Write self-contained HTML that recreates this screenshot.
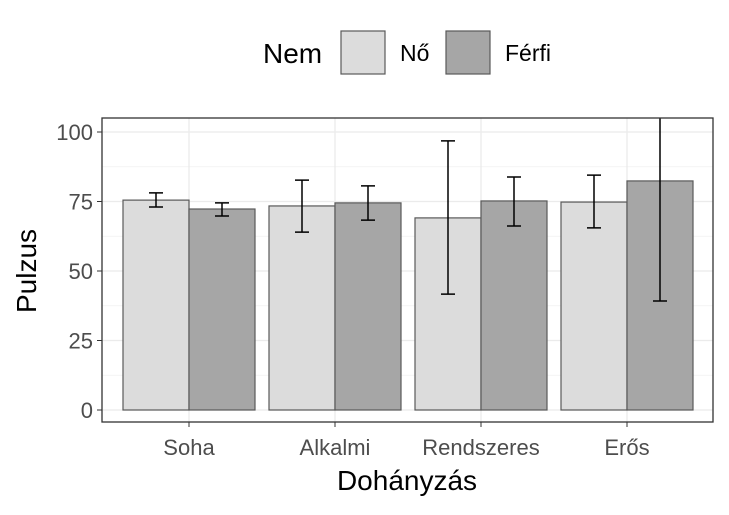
<!DOCTYPE html>
<html><head><meta charset="utf-8"><style>
body{margin:0;background:#fff;font-family:"Liberation Sans",Arial,sans-serif}
</style></head><body>
<svg id="c" width="729" height="510" xmlns="http://www.w3.org/2000/svg"></svg>
<script>
const categories=["Soha","Alkalmi","Rendszeres","Erős"];
const series=["Nő","Férfi"];
const noValues=[75.5,73.4,69.1,74.8];
const ferfiValues=[72.3,74.5,75.2,82.4];
const noLow=[73.0,64.0,41.7,65.5];
const noHigh=[78.1,82.7,96.8,84.5];
const ferfiLow=[69.8,68.3,66.2,39.2];
const ferfiHigh=[74.5,80.6,83.8,125.6];
const yTicks=[0,25,50,75,100];
const colors=["#dcdcdc","#a6a6a6"];
const NS="http://www.w3.org/2000/svg";
const svg=document.getElementById('c');
const px0=102,px1=713,py0=118,py1=422;
const y=v=>410-v*2.78;
const xc=i=>189+i*146;
const bw=66;
function el(t,a,p){const e=document.createElementNS(NS,t);for(const k in a)e.setAttribute(k,a[k]);(p||svg).appendChild(e);return e;}
const clip=el('clipPath',{id:'pc'});el('rect',{x:px0,y:py0,width:px1-px0,height:py1-py0},clip);
for(let i=0;i<yTicks.length-1;i++){const m=el('line',{x1:px0,x2:px1,y1:y(yTicks[i]+12.5),y2:y(yTicks[i]+12.5),stroke:'#f0f0f0','stroke-width':0.7});}
yTicks.forEach(t=>{const g=el('line',{x1:px0,x2:px1,y1:y(t),y2:y(t),stroke:'#ebebeb','stroke-width':1.3});
const tl=el('line',{x1:px0-5,x2:px0,y1:y(t),y2:y(t),stroke:'#333'});
const tx=el('text',{x:px0-9,y:y(t)+8,'text-anchor':'end','font-size':22,fill:'#4d4d4d'});tx.textContent=t;});
categories.forEach((c,i)=>{const g=el('line',{x1:xc(i),x2:xc(i),y1:py0,y2:py1,stroke:'#ebebeb','stroke-width':1.3});
const tl=el('line',{x1:xc(i),x2:xc(i),y1:py1,y2:py1+5,stroke:'#333'});
const tx=el('text',{x:xc(i),y:py1+33,'text-anchor':'middle','font-size':22,fill:'#4d4d4d'});tx.textContent=c;});
const gp=el('g',{'clip-path':'url(#pc)'});
[[noValues,noLow,noHigh],[ferfiValues,ferfiLow,ferfiHigh]].forEach((s,si)=>{
 s[0].forEach((v,i)=>{const x0=xc(i)-bw+si*bw;
  const r=el('rect',{x:x0,y:y(v),width:bw,height:y(0)-y(v),fill:colors[si],stroke:'#595959','stroke-width':1.2},gp);
  
  const cx=x0+bw/2,lo=y(s[1][i]),hi=y(s[2][i]);
  const e=el('path',{d:`M${cx-7},${hi}H${cx+7}M${cx},${hi}V${lo}M${cx-7},${lo}H${cx+7}`,stroke:'#000','stroke-width':1.5,fill:'none'},gp);
  });});
const fr=el('rect',{x:px0,y:py0,width:px1-px0,height:py1-py0,fill:'none',stroke:'#333','stroke-width':1.3});
</script>
<svg width="729" height="510" style="position:absolute;left:0;top:0" xmlns="http://www.w3.org/2000/svg">
<text x="407" y="490" text-anchor="middle" font-size="28">Dohányzás</text>
<text transform="translate(36,271) rotate(-90)" text-anchor="middle" font-size="28">Pulzus</text>
<text x="263" y="63" font-size="28">Nem</text>
<rect x="341" y="31" width="44" height="43" fill="#dcdcdc" stroke="#595959" stroke-width="1.2"/>
<text x="400" y="61" font-size="23">Nő</text>
<rect x="446" y="31" width="44" height="43" fill="#a6a6a6" stroke="#595959" stroke-width="1.2"/>
<text x="505" y="61" font-size="23">Férfi</text>
</svg>
</body></html>
